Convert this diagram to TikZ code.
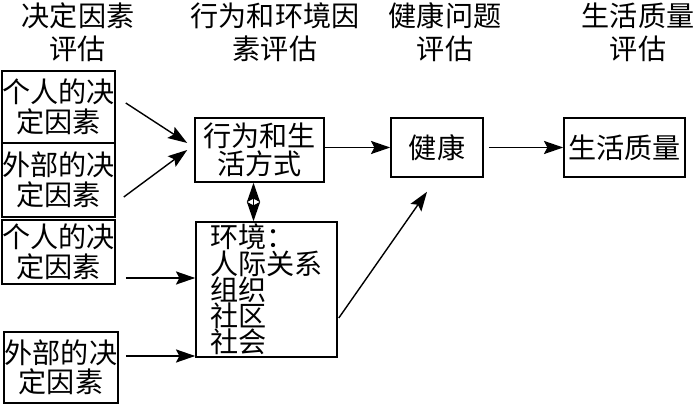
\documentclass[tikz,border=0pt]{standalone}
\usepackage{fontspec}
\setmainfont{Noto Sans CJK SC}
\usetikzlibrary{calc, arrows.meta}

\begin{document}
\begin{tikzpicture}[x=0.02cm, y=-0.02cm,
	>={Stealth[length=11pt, width=7.5pt, inset=2pt]},
	box/.style={draw, line width=0.9pt, inner sep=0pt, align=center, font=\fontsize{16}{16.8}\selectfont},
	detbox/.style={box, minimum width=2.26cm},
	head/.style={align=center, font=\fontsize{16}{18.7}\selectfont},
	arr/.style={->, line width=0.8pt}]
		
		\useasboundingbox (0,0) rectangle (700,405);
		
		%Headers
		\node[head] (hdet) at (78,32) {决定因素\\评估};
		\node[head] (hbeh) at (275,32) {行为和环境因\\素评估};
		\node[head] (hhea) at (445,32) {健康问题\\评估};
		\node[head] (hqol) at (638,32) {生活质量\\评估};
		
		%Determinants
		\node[detbox, minimum height=1.44cm] (indiv1) at (58.5,107) {个人的决\\定因素};
		\node[detbox, minimum height=1.48cm] (extern1) at (58.5,180) {外部的决\\定因素};
		\node[detbox, minimum height=1.28cm] (indiv2) at (58.5,252) {个人的决\\定因素};
		\node[detbox, minimum width=2.28cm, minimum height=1.42cm] (extern2) at (61,367.5) {外部的决\\定因素};
		
		%Behaviour and environment
		\node[box, minimum width=2.58cm, minimum height=1.28cm, font=\fontsize{16}{14.8}\selectfont] (behav) at (259.5,150) {行为和生\\活方式};
		\node[box, align=left, minimum width=2.82cm, minimum height=2.70cm, font=\fontsize{16}{14.9}\selectfont] (env) at (266.5,289.5) {环境：\\人际关系\\组织\\社区\\社会};
		
		%Health and quality of life
		\node[box, minimum width=1.84cm, minimum height=1.18cm] (health) at (437,147.5) {健康};
		\node[box, minimum width=2.42cm, minimum height=1.18cm] (qol) at (624.5,147.5) {生活质量};
		
		%Arrows
		\draw[arr] ($(indiv1.east)+(10,-4)$) -- ($(behav.west)+(-7,-7)$);
		\draw[arr] ($(extern1.east)+(8,17)$) -- ($(behav.west)+(-7,0)$);
		\coordinate (c1) at ($(indiv2.east)+(10,26)$);
		\draw[arr] (c1) -- (c1 -| env.west);
		\coordinate (c2) at ($(extern2.east)+(7,-11.5)$);
		\draw[arr] (c2) -- (c2 -| env.west);
		\draw[arr, <->] ($(behav.south)+(-6,0)$) -- ($(env.north)+(-13,0)$);
		\draw[arr] (behav.east |- health.west) -- (health.west);
		\draw[arr] ($(health.east)+(5,0)$) -- (qol.west);
		\draw[arr] ($(env.east)+(1,28.5)$) -- ($(health.south)+(-10,14)$);
		
	\end{tikzpicture}
\end{document}
